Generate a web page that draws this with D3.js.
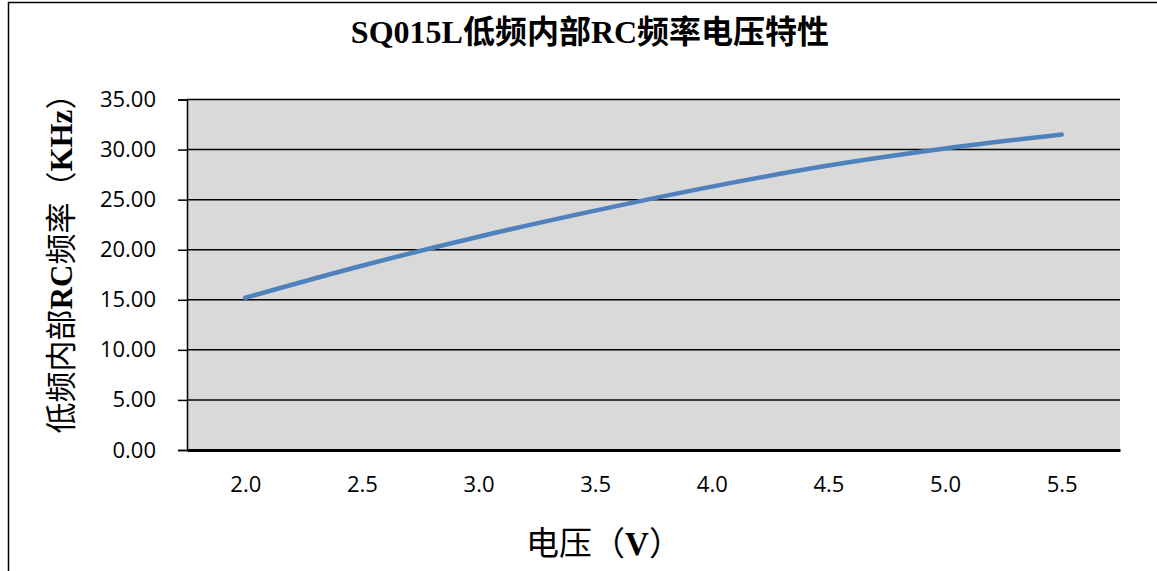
<!DOCTYPE html>
<html>
<head>
<meta charset="utf-8">
<script src="https://cdn.jsdelivr.net/npm/d3@7"></script>
<style>
  body { margin: 0; background: #fff; }
  svg { display: block; }
</style>
</head>
<body>
<div id="chart"></div>
<script>
const voltages = ["2.0", "2.5", "3.0", "3.5", "4.0", "4.5", "5.0", "5.5"];
const freqKHz = [15.2, 18.4, 21.3, 23.9, 26.3, 28.4, 30.1, 31.5];
const yTicks = [0, 5, 10, 15, 20, 25, 30, 35];

const width = 1157, height = 571;
const margin = { left: 187, right: 37, top: 99.5, bottom: 121 };

const svg = d3.select('#chart').append('svg')
  .attr('width', width)
  .attr('height', height);

// outer chart frame (only left and top edges fall inside the picture)
svg.append('path')
  .attr('d', `M8.5,${height} V2.5 H${width}`)
  .attr('fill', 'none')
  .attr('stroke', '#000')
  .attr('stroke-width', 1.5);

const x = d3.scalePoint()
  .domain(voltages)
  .range([margin.left, width - margin.right])
  .padding(0.5);

const y = d3.scaleLinear()
  .domain([0, 35])
  .range([height - margin.bottom, margin.top]);

// plot background
svg.append('rect')
  .attr('x', margin.left)
  .attr('y', margin.top)
  .attr('width', width - margin.right - margin.left)
  .attr('height', y(0) - margin.top)
  .attr('fill', '#d9d9d9');

// gridlines
svg.append('g')
  .selectAll('line')
  .data(yTicks.filter(d => d > 0))
  .join('line')
  .attr('x1', margin.left)
  .attr('x2', width - margin.right)
  .attr('y1', d => y(d))
  .attr('y2', d => y(d))
  .attr('stroke', '#000')
  .attr('stroke-width', 1.5);

const tickFont = '"Open Sans", "Noto Sans", sans-serif';

// y axis
const yAxis = svg.append('g')
  .attr('transform', `translate(${margin.left},0)`)
  .call(d3.axisLeft(y).tickValues(yTicks).tickFormat(d3.format('.2f')).tickSize(9).tickPadding(22));
yAxis.select('.domain').attr('stroke', '#000').attr('stroke-width', 1.5);
yAxis.selectAll('.tick line').attr('stroke', '#000').attr('stroke-width', 1.5);
yAxis.selectAll('text')
  .style('font-family', tickFont)
  .style('font-size', '22px')
  .attr('fill', '#000');

// x axis
const xAxis = svg.append('g')
  .attr('transform', `translate(0,${y(0)})`)
  .call(d3.axisBottom(x).tickSize(0).tickPadding(26));
xAxis.select('.domain').attr('stroke', '#000').attr('stroke-width', 3);
xAxis.selectAll('text')
  .style('font-family', tickFont)
  .style('font-size', '22px')
  .attr('fill', '#000');

// data line
const line = d3.line()
  .x((d, i) => x(voltages[i]))
  .y(d => y(d))
  .curve(d3.curveMonotoneX);

svg.append('path')
  .datum(freqKHz)
  .attr('d', line)
  .attr('fill', 'none')
  .attr('stroke', '#4f81bd')
  .attr('stroke-width', 4.5)
  .attr('stroke-linecap', 'round')
  .attr('stroke-linejoin', 'round');

const labelFont = '"Liberation Serif", "Noto Sans CJK SC", serif';

// title
svg.append('text')
  .attr('x', 590)
  .attr('y', 43)
  .attr('text-anchor', 'middle')
  .style('font-family', labelFont)
  .style('font-weight', 'bold')
  .style('font-size', '32px')
  .text('SQ015L低频内部RC频率电压特性');

// y axis title
svg.append('text')
  .attr('transform', `translate(72,256) rotate(-90)`)
  .attr('text-anchor', 'middle')
  .style('font-family', labelFont)
  .style('font-size', '31px')
  .html('低频内部<tspan font-weight="bold">RC</tspan>频率（<tspan font-weight="bold">KHz</tspan>）');

// x axis title
svg.append('text')
  .attr('x', 604)
  .attr('y', 555)
  .attr('text-anchor', 'middle')
  .style('font-family', labelFont)
  .style('font-size', '33px')
  .html('电压（<tspan font-weight="bold">V</tspan>）');
</script>
</body>
</html>
